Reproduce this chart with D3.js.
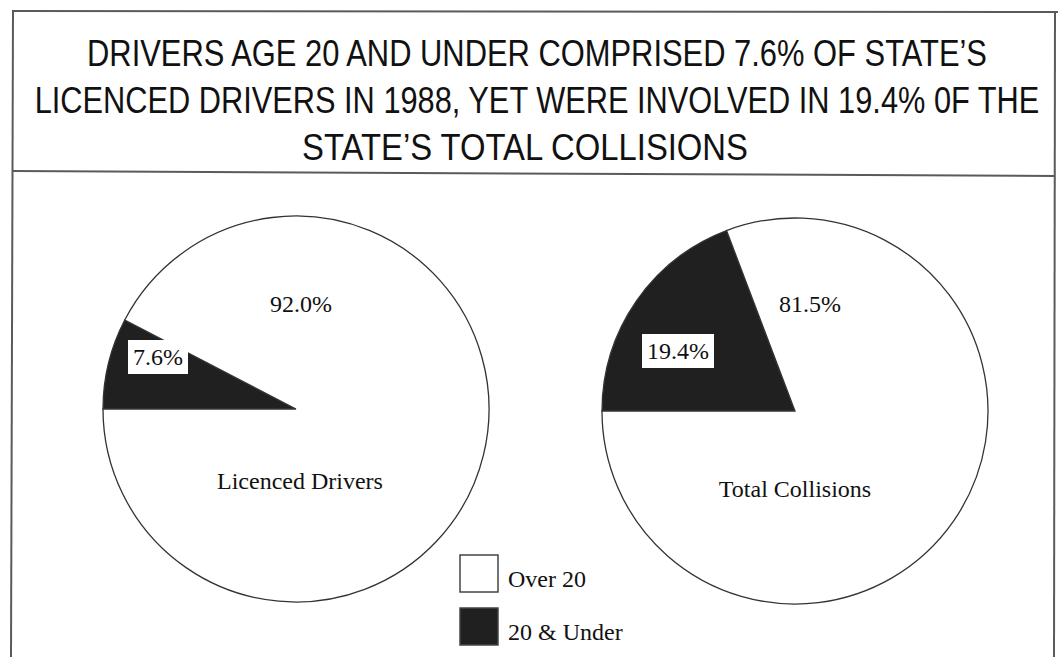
<!DOCTYPE html>
<meta charset="utf-8">
<script src="https://d3js.org/d3.v7.min.js"></script>
<style>
  body { margin: 0; background: #fff; }
</style>
<div id="my_dataviz"></div>
<script>

// data
var categories = ["20 & Under", "Over 20"];
var pieNames = ["Licenced Drivers", "Total Collisions"];
var licencedValues = [7.6, 92.0];
var collisionValues = [19.4, 81.5];
var titleLines = [
  "DRIVERS AGE 20 AND UNDER COMPRISED 7.6% OF STATE\u2019S",
  "LICENCED DRIVERS IN 1988, YET WERE INVOLVED IN 19.4% 0F THE",
  "STATE\u2019S TOTAL COLLISIONS"
];

var width = 1058, height = 657;

var svg = d3.select("#my_dataviz")
  .append("svg")
    .attr("width", width)
    .attr("height", height);

// frame
var frame = svg.append("g")
  .attr("fill", "none")
  .attr("stroke", "#5a5a5a")
  .attr("stroke-width", 2);
frame.append("line").attr("x1", 12).attr("y1", 11).attr("x2", 1058).attr("y2", 12);
frame.append("line").attr("x1", 13).attr("y1", 11).attr("x2", 11).attr("y2", 657);
frame.append("line").attr("x1", 1055).attr("y1", 12).attr("x2", 1054).attr("y2", 657);
frame.append("line").attr("x1", 12).attr("y1", 171).attr("x2", 1055).attr("y2", 176);

// title (condensed by squeezing each line to the width it has in the original)
var titleWidths = [900, 1005, 446];
var titleX = [537, 537, 525];
svg.append("g").selectAll("text")
  .data(titleLines)
  .enter()
  .append("text")
    .attr("x", 0)
    .attr("y", 0)
    .attr("text-anchor", "middle")
    .style("font-family", "'Liberation Sans', Arial, sans-serif")
    .style("font-size", "37px")
    .style("fill", "#111")
    .text(function(d) { return d; })
    .attr("transform", function(d, i) {
      var w = this.getComputedTextLength();
      return "translate(" + titleX[i] + "," + (66 + i * 47) + ") scale(" + (titleWidths[i] / w) + ",1)";
    });

// colours
var color = d3.scaleOrdinal()
  .domain(categories)
  .range(["#202020", "#ffffff"]);

var pie = d3.pie()
  .sort(null)
  .startAngle(-Math.PI / 2)
  .endAngle(1.5 * Math.PI)
  .value(function(d) { return d.value; });

var radius = 193;
var arc = d3.arc().innerRadius(0).outerRadius(radius);

var pies = [
  {name: pieNames[0], values: licencedValues, cx: 296, cy: 409,
   small: [158, 357], big: [301, 312], label: [300, 489]},
  {name: pieNames[1], values: collisionValues, cx: 795, cy: 411,
   small: [678, 351], big: [810, 312], label: [795, 497]}
];

var fmt = d3.format(".1f");
var serif = "'Liberation Serif', 'Times New Roman', serif";

pies.forEach(function(p) {
  var g = svg.append("g")
    .attr("transform", "translate(" + p.cx + "," + p.cy + ")");

  var rows = categories.map(function(c, i) { return {key: c, value: p.values[i]}; });

  g.selectAll("path")
    .data(pie(rows))
    .enter()
    .append("path")
      .attr("d", arc)
      .style("fill", function(d) { return color(d.data.key); })
      .style("stroke", "#333")
      .style("stroke-width", 1.3);

  // big slice label
  svg.append("text")
    .attr("x", p.big[0])
    .attr("y", p.big[1])
    .attr("text-anchor", "middle")
    .style("font-family", serif)
    .style("font-size", "24px")
    .style("fill", "#111")
    .text(fmt(p.values[1]) + "%");

  // small slice label in a white box
  var t = svg.append("text")
    .attr("x", p.small[0])
    .attr("y", p.small[1] + 8)
    .attr("text-anchor", "middle")
    .style("font-family", serif)
    .style("font-size", "24px")
    .style("fill", "#111")
    .text(fmt(p.values[0]) + "%");
  var bb = t.node().getBBox();
  svg.insert("rect", function() { return t.node(); })
    .attr("x", bb.x - 5)
    .attr("y", p.small[1] - 17)
    .attr("width", bb.width + 10)
    .attr("height", 34)
    .style("fill", "#fff");

  // pie name
  svg.append("text")
    .attr("x", p.label[0])
    .attr("y", p.label[1])
    .attr("text-anchor", "middle")
    .style("font-family", serif)
    .style("font-size", "24px")
    .style("fill", "#111")
    .text(p.name);
});

// legend
var legendKeys = ["Over 20", "20 & Under"];
var legend = svg.append("g").attr("transform", "translate(460,555)");
legend.selectAll("rect")
  .data(legendKeys)
  .enter()
  .append("rect")
    .attr("x", 0)
    .attr("y", function(d, i) { return i * 53; })
    .attr("width", 38)
    .attr("height", 37)
    .style("fill", function(d) { return color(d); })
    .style("stroke", "#444")
    .style("stroke-width", 1.5);
legend.selectAll("text")
  .data(legendKeys)
  .enter()
  .append("text")
    .attr("x", 48)
    .attr("y", function(d, i) { return 32 + i * 53; })
    .style("font-family", serif)
    .style("font-size", "24px")
    .style("fill", "#111")
    .text(function(d) { return d; });

</script>
